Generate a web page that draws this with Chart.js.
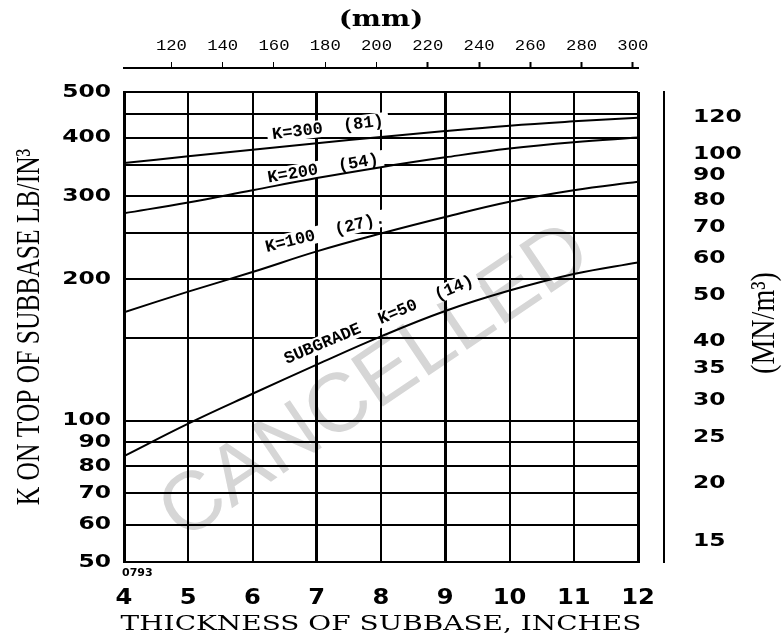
<!DOCTYPE html>
<html><head><meta charset="utf-8">
<script src="https://cdn.jsdelivr.net/npm/chart.js@4"></script>
<style>html,body{margin:0;padding:0;background:#fff}canvas{display:block}</style>
</head><body>
<canvas id="c" width="784" height="637"></canvas>
<script>
// ---------- data ----------
const thicknessIn   = [4, 5, 6, 7, 8, 9, 10, 11, 12];
const kSubgrade50   = [84, 98.5, 114, 131.5, 151, 171, 189, 205, 217];
const kSubgrade100  = [170, 188, 207, 229, 250, 271, 292, 309, 322];
const kSubgrade200  = [276, 291, 309, 328, 346, 363, 379, 391, 400];
const kSubgrade300  = [353, 365, 377, 389, 401, 413, 424, 433, 441];
const curveLabels   = ['SUBGRADE  K=50  (14)', 'K=100  (27).', 'K=200  (54)', 'K=300  (81)'];
const inchTicks     = [4, 5, 6, 7, 8, 9, 10, 11, 12];
const mmTicks       = [120, 140, 160, 180, 200, 220, 240, 260, 280, 300];
const leftTicks     = [50, 60, 70, 80, 90, 100, 200, 300, 400, 500];
const gridValues    = [50, 60, 70, 80, 90, 100, 150, 200, 250, 300, 350, 400, 450, 500];
const rightTicks    = [15, 20, 25, 30, 35, 40, 50, 60, 70, 80, 90, 100, 120];
const xTitle = 'THICKNESS OF SUBBASE, INCHES';
const yTitle = 'K ON TOP OF SUBBASE LB/IN³';
const y2Title = '(MN/m³)';
const x2Title = '(mm)';
const watermarkText = 'CANCELLED';
const figureCode = '0793';
const PCI_TO_MNM3 = 0.2714;

// ---------- styles ----------
const boldInches = [4, 7, 9, 12];
const labelStyle = [
  {x: 7.97, off: 17, angle: -23},
  {x: 7.13, off: 16, angle: -14},
  {x: 7.10, off: 8,  angle: -9.6},
  {x: 7.175, off: 14, angle: -7}
];
// horizontal stretch per font size (emulates the extended / condensed lettering)
const textScaleBySize = {'18': 1.3, '22': 1.1, '15': 1.15, '23': 1.2, '21': 1.33, '34': 0.75, '33': 0.85};

Chart.defaults.color = '#000';
Chart.defaults.font.family = '"DejaVu Sans"';

const canvas = document.getElementById('c');
const ctx = canvas.getContext('2d');
const origFill = ctx.fillText.bind(ctx);
ctx.fillText = function (text, x, y, maxWidth) {
  const m = /(\d+(?:\.\d+)?)px/.exec(this.font);
  const sx = m ? (textScaleBySize[m[1]] || 1) : 1;
  if (sx === 1) {
    if (maxWidth === undefined) origFill(text, x, y); else origFill(text, x, y, maxWidth);
    return;
  }
  this.save();
  this.translate(x, y);
  this.scale(sx, 1);
  origFill(text, 0, 0);
  this.restore();
};

const curveSeries = [kSubgrade50, kSubgrade100, kSubgrade200, kSubgrade300];

const decorations = {
  id: 'decorations',
  beforeDraw(chart) {
    const c = chart.ctx, a = chart.chartArea;
    c.save();
    c.translate(a.left + 0.49 * (a.right - a.left), a.top + 0.62 * (a.bottom - a.top));
    c.rotate(-34 * Math.PI / 180);
    c.font = '83px "Liberation Sans"';
    c.fillStyle = '#d6d6d6';
    c.textAlign = 'center';
    c.textBaseline = 'middle';
    c.fillText(watermarkText, 0, 0);
    c.restore();
  },
  beforeDatasetsDraw(chart) {
    const c = chart.ctx, xs = chart.scales.x, ys = chart.scales.y;
    curveSeries.forEach((vals, i) => {
      const st = labelStyle[i];
      let j = 0;
      while (j < thicknessIn.length - 2 && thicknessIn[j + 1] < st.x) j++;
      const t = (st.x - thicknessIn[j]) / (thicknessIn[j + 1] - thicknessIn[j]);
      const y0 = ys.getPixelForValue(vals[j]), y1 = ys.getPixelForValue(vals[j + 1]);
      const px = xs.getPixelForValue(st.x);
      const py = y0 + t * (y1 - y0) - st.off;
      c.save();
      c.translate(px, py);
      c.rotate(st.angle * Math.PI / 180);
      c.font = 'bold 17px "Liberation Mono"';
      const w = c.measureText(curveLabels[i]).width;
      c.fillStyle = '#fff';
      c.fillRect(-w / 2 - 5, -9, w + 10, 17);
      c.fillStyle = '#000';
      c.textAlign = 'center';
      c.textBaseline = 'middle';
      c.fillText(curveLabels[i], 0, 0);
      c.restore();
    });
  },
  afterDraw(chart) {
    const c = chart.ctx, a = chart.chartArea;
    c.save();
    c.translate(765, (a.top + a.bottom) / 2 - 4);
    c.rotate(-Math.PI / 2);
    c.font = '33px "Liberation Serif"';
    c.fillStyle = '#000';
    c.textAlign = 'center';
    c.textBaseline = 'middle';
    c.fillText(y2Title, 0, 0);
    c.restore();
    c.save();
    c.font = 'bold 11px "DejaVu Sans"';
    c.fillStyle = '#000';
    c.textAlign = 'left';
    c.textBaseline = 'middle';
    c.fillText(figureCode, a.left - 2, a.bottom + 11);
    c.restore();
  }
};

new Chart(ctx, {
  type: 'line',
  data: {
    datasets: curveSeries.map((vals, i) => ({
      label: curveLabels[i],
      data: thicknessIn.map((t, j) => ({x: t, y: vals[j]})),
      borderColor: '#000',
      borderWidth: 2,
      pointRadius: 0,
      fill: false,
      tension: 0.4,
      xAxisID: 'x',
      yAxisID: 'y'
    }))
  },
  options: {
    responsive: false,
    animation: false,
    devicePixelRatio: 1,
    layout: {padding: 0},
    plugins: {legend: {display: false}, tooltip: {enabled: false}},
    scales: {
      x: {
        type: 'linear', position: 'bottom', min: 4, max: 12,
        afterBuildTicks: s => { s.ticks = inchTicks.map(v => ({value: v})); },
        grid: {color: '#000', lineWidth: c => (c.tick && boldInches.includes(c.tick.value)) ? 3 : 2, drawTicks: false},
        border: {display: true, color: '#000', width: 2},
        ticks: {font: {size: 22, weight: 'bold'}, padding: 23, color: '#000', maxRotation: 0, autoSkip: false},
        title: {display: true, text: xTitle, color: '#000', font: {family: '"DejaVu Serif"', size: 21}, padding: {top: 0, bottom: 0}},
        afterFit: s => { s.height = 75; }
      },
      ts: {
        type: 'linear', position: 'top', weight: 0, min: 0, max: 1,
        grid: {display: false}, ticks: {display: false}, border: {display: false},
        afterFit: s => { s.height = 24; }
      },
      x2: {
        type: 'linear', position: 'top', weight: 1, min: 101.5, max: 302,
        afterBuildTicks: s => { s.ticks = mmTicks.map(v => ({value: v})); },
        grid: {drawOnChartArea: false, drawTicks: true, tickLength: 6, tickColor: '#000',
               tickWidth: c => (c.tick && c.tick.value >= 220) ? 2 : 1},
        border: {display: true, color: '#000', width: 2},
        ticks: {font: {family: '"Liberation Mono"', size: 15}, padding: 7, color: '#000', maxRotation: 0, autoSkip: false},
        title: {display: true, text: x2Title, color: '#000', font: {family: '"DejaVu Serif"', size: 23, weight: 'bold'}, padding: {top: 6, bottom: 0}},
        afterFit: s => { s.height = 68; }
      },
      y: {
        type: 'logarithmic', position: 'left', min: 50, max: 500,
        afterBuildTicks: s => { s.ticks = gridValues.map(v => ({value: v})); },
        grid: {color: '#000', lineWidth: 2, drawTicks: false},
        border: {display: true, color: '#000', width: 3},
        ticks: {callback: v => leftTicks.includes(v) ? String(v) : '', font: {size: 18, weight: 'bold'}, padding: 13, color: '#000', autoSkip: false},
        title: {display: true, text: yTitle, color: '#000', font: {family: '"Liberation Serif"', size: 34}, padding: {top: 10, bottom: 0}},
        afterFit: s => { s.width = 124; }
      },
      rs: {
        type: 'linear', position: 'right', weight: 0, min: 0, max: 1,
        grid: {display: false}, ticks: {display: false}, border: {display: false},
        afterFit: s => { s.width = 26; }
      },
      y2: {
        type: 'logarithmic', position: 'right', weight: 1,
        min: 50 * PCI_TO_MNM3, max: 500 * PCI_TO_MNM3,
        afterBuildTicks: s => { s.ticks = rightTicks.map(v => ({value: v})); },
        grid: {drawOnChartArea: false, drawTicks: false},
        border: {display: true, color: '#000', width: 2},
        ticks: {callback: v => String(v), font: {size: 18, weight: 'bold'}, padding: 29, color: '#000', autoSkip: false},
        afterFit: s => { s.width = 120; }
      }
    }
  },
  plugins: [decorations]
});
</script>
</body></html>
